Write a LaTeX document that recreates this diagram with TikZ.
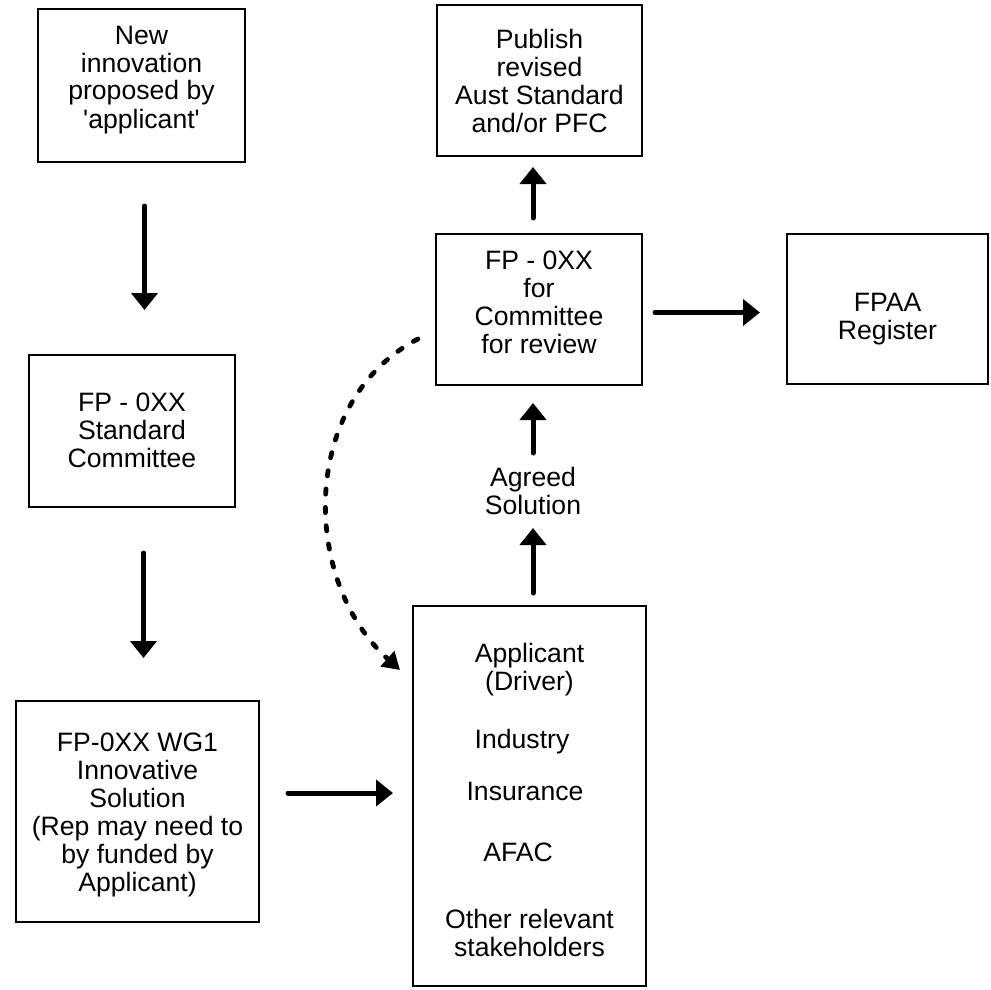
\documentclass[tikz,border=0pt]{standalone}
\usepackage{fontspec}
\setmainfont{Liberation Sans}
\usetikzlibrary{arrows.meta}

\tikzset{
  box/.style={draw, line width=1.4pt, align=center, inner sep=0pt, outer sep=0pt, text depth=3pt},
  flow/.style={line width=2.5pt, line cap=round, -{Triangle[length=8.5pt,width=13pt]}},
  loopback/.style={line width=2.4pt, line cap=round, dash pattern=on 2.6pt off 6.6pt, -{Triangle[length=8.5pt,width=10pt]}}
}

\begin{document}
\begin{tikzpicture}[x=0.5pt, y=-0.5pt, font=\fontsize{13.3}{14}\selectfont]
    \useasboundingbox (0,0) rectangle (990,990);

    % Left column: proposal and committee
    \node[box, minimum width=103.5pt, minimum height=76.5pt, text height=45.5pt] (new) at (141.5,85.5)
        {New\\innovation\\proposed by\\\textquotesingle applicant\textquotesingle};
    \node[box, minimum width=103pt, minimum height=76pt, text height=39pt] (std) at (132,431)
        {FP - 0XX\\Standard\\Committee};
    \node[box, minimum width=121.5pt, minimum height=110.5pt, text height=82.5pt] (wg) at (137.5,811.5)
        {FP-0XX WG1\\Innovative\\Solution\\(Rep may need to\\by funded by\\Applicant)};

    % Right column: stakeholders, review, publish
    \node[box, minimum width=116.5pt, minimum height=190pt, text height=163pt] (stake) at (529.5,796)
        {Applicant\\(Driver)\\[15pt]Industry\kern7.5pt\\[12pt]Insurance\kern4.5pt\\[16.5pt]AFAC\kern11.5pt\\[19.5pt]Other relevant\\stakeholders};
    \node[align=center, inner sep=0pt, outer sep=0pt, text height=24pt, text depth=3pt, anchor=base] (agreed) at (533,514)
        {Agreed\\Solution};
    \node[box, minimum width=103pt, minimum height=75.5pt, text height=46.5pt] (review) at (539,309.5)
        {FP - 0XX\\for\\Committee\\for review};
    \node[box, minimum width=102.5pt, minimum height=75.5pt, text height=55.5pt] (publish) at (539.5,80.5)
        {Publish\\revised\\Aust Standard\\and/or PFC};
    \node[box, minimum width=100.5pt, minimum height=75pt, text height=33pt] (fpaa) at (887.5,309)
        {FPAA\\Register};

    % Flow arrows
    \draw[flow, shorten <=22pt, shorten >=22.5pt] ([xshift=1.5pt]new.south) -- ([xshift=1.5pt]new.south |- std.north);
    \draw[flow, shorten <=23pt, shorten >=21.5pt] ([xshift=3pt]wg.north |- std.south) -- ([xshift=3pt]wg.north);
    \draw[flow, shorten <=14.5pt, shorten >=10pt] ([yshift=9.25pt]wg.east) -- ([yshift=9.25pt]wg.east -| stake.west);
    \draw[flow, shorten <=6.5pt, shorten >=4pt] (stake.north -| agreed.south) -- (agreed.south);
    \draw[flow, shorten <=6.5pt, shorten >=9pt] (agreed.north) -- (agreed.north |- review.south);
    \draw[flow, shorten <=8pt, shorten >=5.5pt] ([xshift=-3pt]review.north) -- ([xshift=-3pt]review.north |- publish.south);
    \draw[flow, shorten <=6.5pt, shorten >=13.5pt] ([yshift=-1.5pt]review.east) -- ([yshift=-1.5pt]review.east -| fpaa.west);

    % Dashed loop back from review to stakeholders
    \coordinate (loopstart) at (418,339);
    \coordinate (loopend) at (400,670);
    \draw[loopback] (loopstart) .. controls (300,400) and (300,580) .. (loopend);
\end{tikzpicture}
\end{document}
